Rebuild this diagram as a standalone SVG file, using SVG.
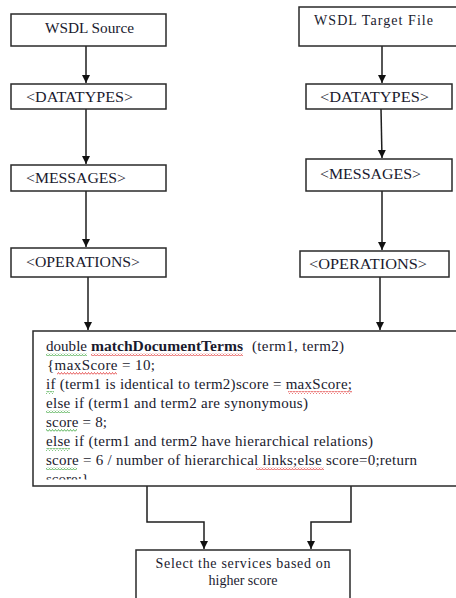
<svg xmlns="http://www.w3.org/2000/svg" width="456" height="598" viewBox="0 0 456 598">
<style>
.box{fill:#fff;stroke:#2a2a2a;stroke-width:1.5}
.lbl{font-family:"Liberation Serif","Times New Roman",serif;font-size:14px;fill:#1a1a2e}
.code{font-family:"Liberation Serif","Times New Roman",serif;font-size:15px;fill:#1a1a2e}
.con{fill:none;stroke:#1e1e1e;stroke-width:1.5}
.sqr{fill:url(#sqR)}
.sqg{fill:url(#sqG)}
</style>
<defs>
<marker id="ah" viewBox="0 0 10 10" refX="10" refY="5" markerWidth="8" markerHeight="10" markerUnits="userSpaceOnUse" orient="auto">
<path d="M0,0 L10,5 L0,10 z" fill="#111"/>
</marker>
<pattern id="sqR" width="3" height="3" patternUnits="userSpaceOnUse">
<path d="M0 2.5 L1.5 0.5 L3 2.5" fill="none" stroke="#e03030" stroke-width="0.8"/>
</pattern>
<pattern id="sqG" width="3" height="3" patternUnits="userSpaceOnUse">
<path d="M0 2.5 L1.5 0.5 L3 2.5" fill="none" stroke="#3aa53a" stroke-width="0.8"/>
</pattern>
<clipPath id="bigclip"><rect x="34" y="332" width="430" height="147.5"/></clipPath>
</defs>

<g id="connectors">
<path class="con" d="M86,46 V83" marker-end="url(#ah)"/>
<path class="con" d="M86,109 V164" marker-end="url(#ah)"/>
<path class="con" d="M86,191 V247" marker-end="url(#ah)"/>
<path class="con" d="M88,277 V330" marker-end="url(#ah)"/>
<path class="con" d="M382,46 V83" marker-end="url(#ah)"/>
<path class="con" d="M381,109 L382,158" marker-end="url(#ah)"/>
<path class="con" d="M382,191 V250" marker-end="url(#ah)"/>
<path class="con" d="M380,277 V330" marker-end="url(#ah)"/>
<path class="con" d="M147,486 V522 H204 V549" marker-end="url(#ah)"/>
<path class="con" d="M351,486 V522 H311 V549" marker-end="url(#ah)"/>
</g>

<g id="src">
<rect class="box" x="11" y="14" width="155" height="32"/>
<text class="lbl" x="45" y="33" font-size="15" textLength="89" lengthAdjust="spacingAndGlyphs">WSDL Source</text>
</g>
<g id="src-datatypes">
<rect class="box" x="11" y="84" width="155" height="25"/>
<text class="lbl" x="26" y="102" textLength="107" lengthAdjust="spacingAndGlyphs">&lt;DATATYPES&gt;</text>
</g>
<g id="src-messages">
<rect class="box" x="11" y="165" width="155" height="26"/>
<text class="lbl" x="26" y="183" textLength="100" lengthAdjust="spacingAndGlyphs">&lt;MESSAGES&gt;</text>
</g>
<g id="src-operations">
<rect class="box" x="11" y="248" width="155" height="29"/>
<text class="lbl" x="26" y="267" textLength="114" lengthAdjust="spacingAndGlyphs">&lt;OPERATIONS&gt;</text>
</g>

<g id="tgt">
<rect class="box" x="299" y="7" width="170" height="39"/>
<text class="lbl" x="314" y="25" textLength="119" lengthAdjust="spacing">WSDL Target  File</text>
</g>
<g id="tgt-datatypes">
<rect class="box" x="306" y="84" width="146" height="25"/>
<text class="lbl" x="320" y="102" textLength="109" lengthAdjust="spacingAndGlyphs">&lt;DATATYPES&gt;</text>
</g>
<g id="tgt-messages">
<rect class="box" x="306" y="159" width="146" height="32"/>
<text class="lbl" x="320" y="179" textLength="101" lengthAdjust="spacingAndGlyphs">&lt;MESSAGES&gt;</text>
</g>
<g id="tgt-operations">
<rect class="box" x="300" y="251" width="149" height="26"/>
<text class="lbl" x="309" y="269" textLength="118" lengthAdjust="spacingAndGlyphs">&lt;OPERATIONS&gt;</text>
</g>

<g id="match">
<rect class="box" x="33" y="331" width="440" height="155"/>
<g clip-path="url(#bigclip)">
<text class="code" x="46" y="351" textLength="41" lengthAdjust="spacingAndGlyphs">double</text>
<text class="code" x="91" y="351" font-weight="bold" textLength="152" lengthAdjust="spacingAndGlyphs">matchDocumentTerms</text>
<text class="code" x="252" y="351" textLength="92" lengthAdjust="spacing">(term1,  term2)</text>
<text class="code" x="47" y="370" textLength="108" lengthAdjust="spacing">{maxScore  = 10;</text>
<text class="code" x="46" y="389" textLength="306" lengthAdjust="spacing">if (term1  is  identical  to  term2)score  = maxScore;</text>
<text class="code" x="46" y="408" textLength="262" lengthAdjust="spacing">else if (term1  and term2  are synonymous)</text>
<text class="code" x="46" y="427" textLength="61" lengthAdjust="spacing">score = 8;</text>
<text class="code" x="46" y="446" textLength="327" lengthAdjust="spacing">else if (term1  and term2  have hierarchical   relations)</text>
<text class="code" x="46" y="465" textLength="371" lengthAdjust="spacing">score = 6 / number  of  hierarchical   links;else  score=0;return</text>
<text class="code" x="46" y="484">score;}</text>
<rect class="sqg" x="46" y="353" width="41" height="3"/>
<rect class="sqr" x="91" y="353" width="152" height="3"/>
<rect class="sqr" x="57" y="372" width="60" height="3"/>
<rect class="sqg" x="46" y="391" width="8" height="3"/>
<rect class="sqr" x="288" y="391" width="64" height="3"/>
<rect class="sqg" x="46" y="410" width="24" height="3"/>
<rect class="sqg" x="46" y="429" width="31" height="3"/>
<rect class="sqg" x="46" y="448" width="24" height="3"/>
<rect class="sqg" x="46" y="467" width="31" height="3"/>
<rect class="sqr" x="256" y="467" width="68" height="3"/>
</g>
</g>

<g id="select">
<rect class="box" x="136" y="550" width="214" height="60"/>
<text class="lbl" x="243" y="568" text-anchor="middle" textLength="175" lengthAdjust="spacing">Select the services  based  on</text>
<text class="lbl" x="243" y="585" text-anchor="middle">higher score</text>
</g>
</svg>
